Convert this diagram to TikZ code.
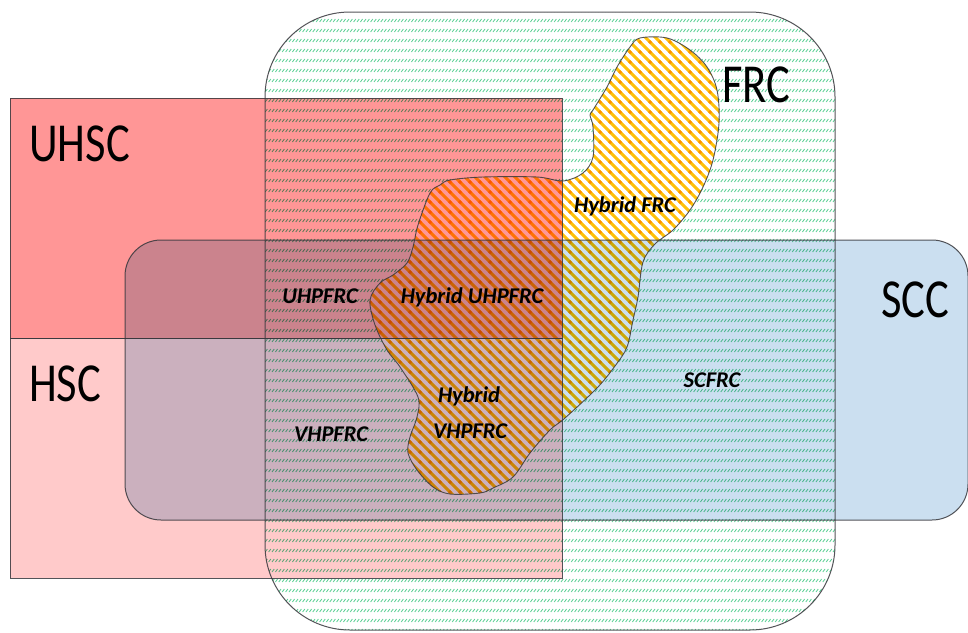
\documentclass[tikz,border=0pt]{standalone}
\usepackage{fontspec}
\setmainfont{Carlito}
\usetikzlibrary{patterns}
\definecolor{uhsccol}{RGB}{255,150,150}
\definecolor{hsccol}{RGB}{255,202,202}
\definecolor{scccol}{RGB}{203,223,240}
\definecolor{frcgreen}{RGB}{90,208,148}
\definecolor{hybgold}{RGB}{255,194,10}
\definecolor{edgecol}{RGB}{55,55,60}
\pgfdeclarepatternformonly{frcdash}{\pgfqpoint{-1pt}{-1pt}}{\pgfqpoint{4.5pt}{4.5pt}}{\pgfqpoint{3.4pt}{10pt}}{%
  \pgfsetlinewidth{0.8pt}\pgfpathmoveto{\pgfqpoint{0pt}{0pt}}\pgfpathlineto{\pgfqpoint{2.2pt}{3pt}}\pgfusepath{stroke}}
\pgfdeclarepatternformonly{blobstripe}{\pgfqpoint{-2pt}{-2pt}}{\pgfqpoint{12pt}{12pt}}{\pgfqpoint{10pt}{10pt}}{%
  \pgfsetlinewidth{3pt}\pgfpathmoveto{\pgfqpoint{-1pt}{11pt}}\pgfpathlineto{\pgfqpoint{11pt}{-1pt}}\pgfusepath{stroke}}
\newcommand\blobshape{plot[smooth cycle,tension=0.55] coordinates {(640,38) (667,38) (690,50) (707,67) (717,90) (719,123) (713,160) (703,187) (690,210) (673,230) (655,244) (643,262) (638,297) (633,320) (627,347) (615,366) (597,388) (565,418) (550,430) (530,453) (513,477) (493,488) (480,493) (450,494) (433,487) (417,470) (408,453) (410,437) (417,417) (418,397) (400,367) (387,350) (375,325) (370,300) (380,283) (393,275) (407,263) (413,247) (418,225) (430,193) (440,185) (450,180) (483,177) (537,177) (563,181) (583,173) (593,157) (593,127) (590,115) (593,110) (607,87) (617,67) (630,47)}}
\tikzset{
  edgeline/.style={draw=edgecol,line width=1pt,opacity=0.85},
  biglabel/.style={anchor=base west,inner sep=0pt,font=\fontsize{55}{55}\selectfont},
  smalllabel/.style={anchor=base,inner sep=0pt,font=\fontsize{22.5}{27}\selectfont\bfseries\itshape}
}
\begin{document}
\begin{tikzpicture}[x=1pt,y=-1pt]
\useasboundingbox (0,0) rectangle (968,632);
\fill[white] (0,0) rectangle (968,632);
\begin{scope}[blend mode=multiply]
  \fill[uhsccol] (10,98) rectangle (562,338);
  \fill[hsccol] (10,338) rectangle (562,578);
  \fill[scccol,rounded corners=36pt] (125,240) rectangle (968,520);
  \fill[pattern=frcdash,pattern color=frcgreen,even odd rule]
    [rounded corners=85pt] (265,12) rectangle (835,630) [sharp corners] \blobshape;
  \fill[pattern=blobstripe,pattern color=hybgold,fill opacity=0.85] \blobshape;
\end{scope}
\draw[edgeline] (10,98) rectangle (562,338);
\draw[edgeline] (10,338) rectangle (562,578);
\draw[edgeline,rounded corners=36pt] (125,240) rectangle (968,520);
\draw[edgeline,rounded corners=85pt] (265,12) rectangle (835,630);
\draw[edgeline,line width=0.9pt] \blobshape;
\node[biglabel] (uhsc) at (29,161) {\scalebox{0.81}[1]{UHSC}};
\node[biglabel] (hsc) at (29,401) {\scalebox{0.81}[1]{HSC}};
\node[biglabel] (frc) at (722,102) {\scalebox{0.81}[1]{FRC}};
\node[biglabel] (scc) at (881,317) {\scalebox{0.81}[1]{SCC}};
\node[smalllabel] (hybfrc) at (625,212) {Hybrid FRC};
\node[smalllabel] (uhpfrc) at (320,303) {UHPFRC};
\node[smalllabel] (hybuhpfrc) at (472,303) {Hybrid UHPFRC};
\node[smalllabel] (hybvh1) at (469,402) {Hybrid};
\node[smalllabel] (hybvh2) at (470,438) {VHPFRC};
\node[smalllabel] (vhpfrc) at (331,441) {VHPFRC};
\node[smalllabel] (scfrc) at (712,387) {SCFRC};
\end{tikzpicture}
\end{document}
